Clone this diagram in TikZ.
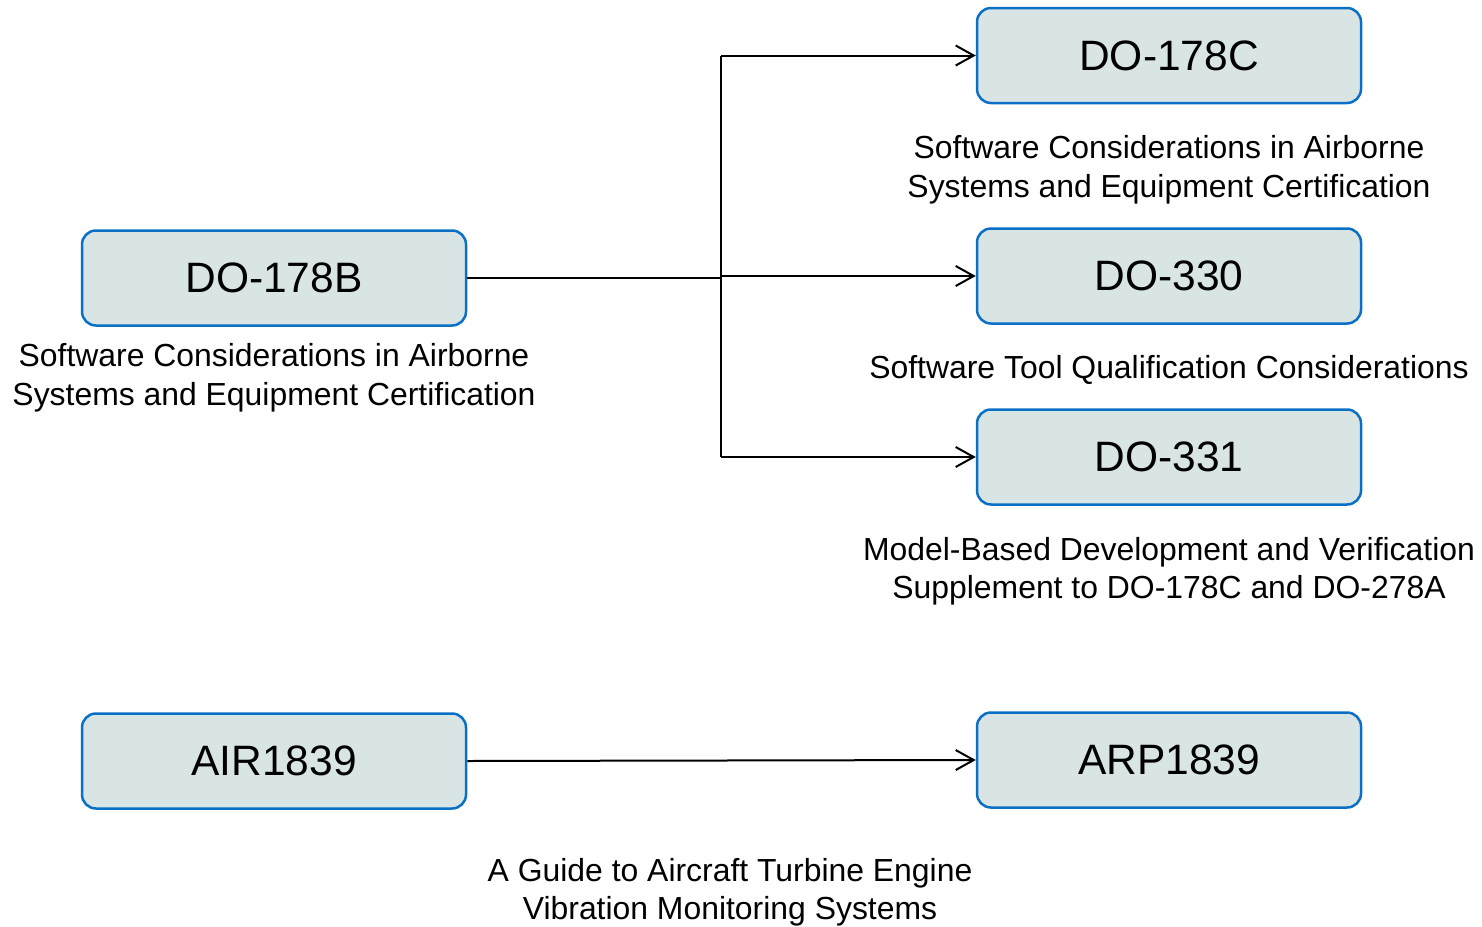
\documentclass[tikz,border=0pt]{standalone}
\usepackage{fontspec}
\setmainfont{Liberation Sans}
\usetikzlibrary{arrows.meta}
\definecolor{boxfill}{HTML}{D9E5E4}
\definecolor{boxedge}{HTML}{0A70C6}
\tikzset{
  docbox/.style={draw=boxedge, fill=boxfill, line width=2.5pt, rounded corners=14pt,
    minimum width=384pt, minimum height=95pt, inner sep=0pt,
    font=\fontsize{42.5}{50}\selectfont},
  caption/.style={align=center, inner sep=0pt, font=\fontsize{31.9}{38.5}\selectfont},
  link/.style={line width=2pt, black},
  arr/.style={link, -{Straight Barb[length=18pt, width=20pt, line width=2pt]}}
}
\begin{document}
\begin{tikzpicture}[x=1pt, y=-1pt]
  \useasboundingbox (0,0) rectangle (1482,926);

  % document boxes
  \node[docbox] (b178) at (274,278) {DO-178B};
  \node[docbox] (c178) at (1169,55.5) {DO-178C};
  \node[docbox] (d330) at (1169,276) {DO-330};
  \node[docbox] (d331) at (1169,457) {DO-331};
  \node[docbox] (air) at (274,761) {AIR1839};
  \node[docbox] (arp) at (1169,760) {ARP1839};

  % titles under the boxes
  \node[caption] (tb178) at (274,377.5) {Software Considerations in Airborne\\Systems and Equipment Certification};
  \node[caption] (tc178) at (1169,169.5) {Software Considerations in Airborne\\Systems and Equipment Certification};
  \node[caption] (t330) at (1169,370) {Software Tool Qualification Considerations};
  \node[caption] (t331) at (1169,571) {Model-Based Development and Verification\\Supplement to DO-178C and DO-278A};
  \node[caption] (tair) at (730,892) {A Guide to Aircraft Turbine Engine\\Vibration Monitoring Systems};

  % branching connectors
  \coordinate (split) at (721,278);
  \coordinate (top) at (721,55.5);
  \coordinate (mid) at (721,276);
  \coordinate (bot) at (721,457);
  \draw[link] (b178.east) -- (split);
  \draw[link] (top) -- (bot);
  \draw[arr] (top) -- (c178.west);
  \draw[arr] (mid) -- (d330.west);
  \draw[arr] (bot) -- (d331.west);
  \draw[arr] (air.east) -- (arp.west);
\end{tikzpicture}
\end{document}
